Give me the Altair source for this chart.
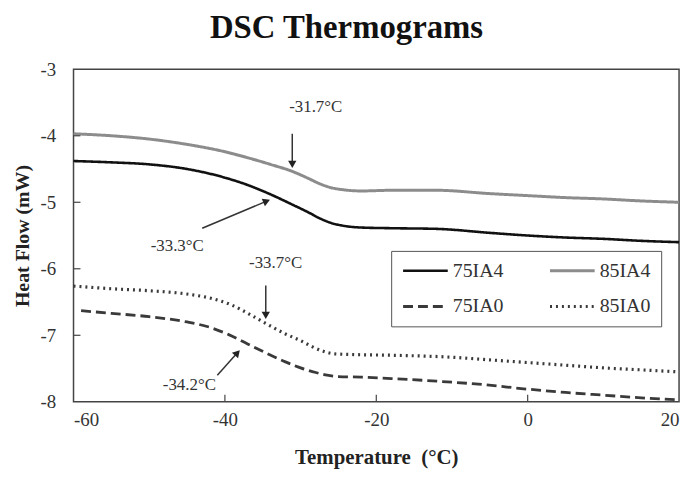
import altair as alt
import numpy as np
import pandas as pd

# ---------------- data ----------------
series_names = ["75IA4", "75IA0", "85IA4", "85IA0"]

t_85ia4 = [-60, -55, -50, -45, -40, -37, -34, -31, -29, -27.5, -26, -24.5, -22, -18, -12, -5, 0, 5, 10, 15, 20]
h_85ia4 = [-3.97, -4.00, -4.05, -4.13, -4.24, -4.33, -4.43, -4.54, -4.64, -4.72, -4.78, -4.81, -4.83, -4.82,
           -4.82, -4.87, -4.90, -4.93, -4.95, -4.98, -5.00]

t_75ia4 = [-60, -55, -50, -45, -40, -37, -34, -31, -29, -27.5, -26, -24.5, -22, -18, -12, -5, 0, 5, 10, 15, 20]
h_75ia4 = [-4.38, -4.40, -4.43, -4.50, -4.63, -4.74, -4.88, -5.04, -5.15, -5.24, -5.31, -5.35, -5.38, -5.39,
           -5.40, -5.46, -5.50, -5.53, -5.55, -5.58, -5.60]

t_85ia0 = [-60, -55, -50, -45, -42, -39, -36.5, -34, -32, -30, -28.5, -27, -25.5, -23, -18, -10, -5, 0, 5, 10, 15, 20]
h_85ia0 = [-6.26, -6.30, -6.33, -6.38, -6.44, -6.55, -6.70, -6.86, -6.98, -7.08, -7.17, -7.24, -7.28, -7.29,
           -7.30, -7.33, -7.37, -7.41, -7.45, -7.49, -7.52, -7.55]

t_75ia0 = [-59, -55, -50, -45, -42, -39.5, -37, -34.5, -32, -30, -28, -26.5, -25, -22, -18, -12, -6, 0, 5, 10, 15, 20]
h_75ia0 = [-6.63, -6.67, -6.72, -6.80, -6.88, -6.99, -7.13, -7.27, -7.40, -7.49, -7.56, -7.60, -7.62, -7.63,
           -7.65, -7.69, -7.74, -7.81, -7.86, -7.90, -7.94, -7.97]

x_ticks = [-60, -40, -20, 0, 20]
y_ticks = [-8, -7, -6, -5, -4, -3]

# annotations (data units)
ann_labels = ["-31.7°C", "-33.3°C", "-33.7°C", "-34.2°C"]
ann_text_t = [-28.0, -46.3, -33.3, -44.7]
ann_text_h = [-3.57, -5.66, -5.91, -7.75]
arrow_t1 = [-31.1, -43.0, -34.6, -41.0]
arrow_h1 = [-3.97, -5.39, -6.25, -7.60]
arrow_t2 = [-31.1, -34.0, -34.6, -38.0]
arrow_h2 = [-4.49, -4.96, -6.76, -7.22]

# ---------------- tables ----------------
rows = []
for name, ts, hs in [("75IA4", t_75ia4, h_75ia4), ("85IA4", t_85ia4, h_85ia4),
                     ("75IA0", t_75ia0, h_75ia0), ("85IA0", t_85ia0, h_85ia0)]:
    for t, h in zip(ts, hs):
        rows.append({"series": name, "T": t, "H": h})
df = pd.DataFrame(rows)

W, H = 610, 335
XMIN, XMAX, YMIN, YMAX = -60, 20, -8, -3
px_per_t = W / (XMAX - XMIN)
px_per_h = H / (YMAX - YMIN)

arr = pd.DataFrame({"t1": arrow_t1, "h1": arrow_h1, "t2": arrow_t2, "h2": arrow_h2})
dx = (arr["t2"] - arr["t1"]) * px_per_t
dy = -(arr["h2"] - arr["h1"]) * px_per_h
ln = np.sqrt(dx ** 2 + dy ** 2)
back = 4.0
arr["ht"] = arr["t2"] - (dx / ln) * back / px_per_t
arr["hh"] = arr["h2"] + (dy / ln) * back / px_per_h
arr["angle"] = (np.degrees(np.arctan2(dx, -dy)) + 360) % 360
ann = pd.DataFrame({"label": ann_labels, "T": ann_text_t, "H": ann_text_h})

xscale = alt.Scale(domain=[XMIN, XMAX], nice=False, zero=False)
yscale = alt.Scale(domain=[YMIN, YMAX], nice=False, zero=False)

FONT = "Liberation Serif"
LABEL_EXPR = "datum.value < 0 ? '-' + abs(datum.value) : '' + datum.value"

legend_cfg = dict(title=None, orient="none", legendX=320, legendY=183, columns=2)

lines = alt.Chart(df).mark_line(interpolate="monotone").encode(
    x=alt.X("T:Q", scale=xscale,
            axis=alt.Axis(title="Temperature\u00a0\u00a0(°C)", values=x_ticks, ticks=False, tickSize=0,
                          domain=False, grid=False, labelPadding=9, titlePadding=17,
                          titleFontSize=21, labelExpr=LABEL_EXPR)),
    y=alt.Y("H:Q", scale=yscale,
            axis=alt.Axis(title="Heat Flow (mW)", values=y_ticks, ticks=False, tickSize=0,
                          domain=False, grid=False, labelPadding=18, titlePadding=8,
                          labelExpr=LABEL_EXPR)),
    color=alt.Color("series:N",
                    scale=alt.Scale(domain=series_names,
                                    range=["#111111", "#3a3a3a", "#8c8c8c", "#3a3a3a"]),
                    legend=alt.Legend(columnPadding=44, rowPadding=16,
                                      symbolType="stroke", symbolSize=2025, symbolStrokeWidth=3,
                                      clipHeight=20, labelOffset=3,
                                      labelFont=FONT, labelFontSize=20, labelColor="#333333",
                                      strokeColor="#555555", padding=10, cornerRadius=0,
                                      **legend_cfg)),
    strokeDash=alt.StrokeDash("series:N",
                              scale=alt.Scale(domain=series_names,
                                              range=[[1, 0], [10, 5], [1, 0], [2, 4]]),
                              legend=alt.Legend(**legend_cfg)),
    strokeWidth=alt.StrokeWidth("series:N",
                                scale=alt.Scale(domain=series_names, range=[2.6, 3.2, 2.6, 3.0]),
                                legend=None),
)

tick_df = pd.DataFrame({"xt": [-40, -20, 0]})
ytick_df = pd.DataFrame({"yt": [-7, -6, -5, -4]})
xticks = alt.Chart(tick_df).mark_rule(color="#444444", strokeWidth=1.2).encode(
    x=alt.X("xt:Q", scale=xscale), y=alt.value(H), y2=alt.value(H - 7))
yticks = alt.Chart(ytick_df).mark_rule(color="#444444", strokeWidth=1.2).encode(
    y=alt.Y("yt:Q", scale=yscale), x=alt.value(0), x2=alt.value(7))

shafts = alt.Chart(arr).mark_rule(color="#333333", strokeWidth=1.5).encode(
    x=alt.X("t1:Q", scale=xscale), y=alt.Y("h1:Q", scale=yscale),
    x2="ht:Q", y2="hh:Q")
heads = alt.Chart(arr).mark_point(shape="triangle-up", filled=True, color="#222222",
                                  size=70, opacity=1).encode(
    x=alt.X("ht:Q", scale=xscale), y=alt.Y("hh:Q", scale=yscale),
    angle=alt.Angle("angle:Q", scale=None))
texts = alt.Chart(ann).mark_text(font=FONT, fontSize=17, color="#333333").encode(
    x=alt.X("T:Q", scale=xscale), y=alt.Y("H:Q", scale=yscale), text="label:N")

chart = alt.layer(lines, xticks, yticks, shafts, heads, texts).properties(
    width=W, height=H,
    title=alt.Title("DSC Thermograms", font=FONT, fontSize=33, fontWeight="bold",
                    color="#111111", anchor="middle", dx=-30, offset=15),
    padding={"left": 4, "top": 3, "right": 0, "bottom": 0},
).configure_view(
    stroke="#444444", strokeWidth=1.5
).configure_axis(
    labelFont=FONT, labelFontSize=19, labelColor="#333333",
    titleFont=FONT, titleFontSize=20, titleFontWeight="bold", titleColor="#222222",
)

chart.save("out.html", embed_options={"renderer": "svg", "actions": False})
